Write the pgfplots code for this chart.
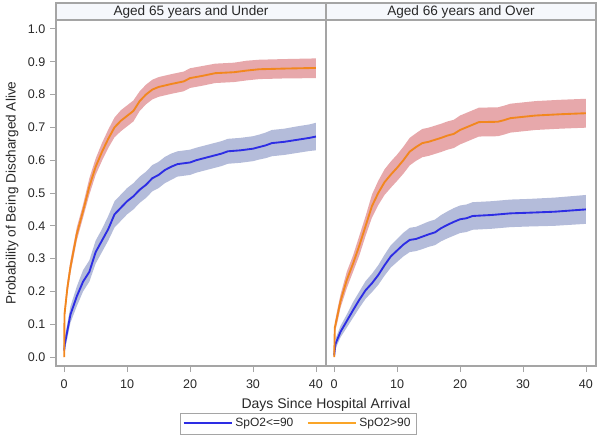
\documentclass[border=0pt]{standalone}
\usepackage{fontspec}
\setmainfont{Liberation Sans}
\usepackage{pgfplots}
\pgfplotsset{compat=1.18}
\usepackage{pgfplotstable}
\usepgfplotslibrary{fillbetween}
\definecolor{lineblue}{RGB}{45,45,228}
\definecolor{lineorange}{RGB}{242,135,30}
\definecolor{legorange}{RGB}{250,165,40}
\definecolor{bandblue}{RGB}{180,188,218}
\definecolor{bandred}{RGB}{231,168,171}
\definecolor{framegray}{RGB}{165,165,165}
\definecolor{headerfill}{RGB}{246,248,252}
\definecolor{textgray}{RGB}{40,40,40}

\pgfplotstableread{
t est lo hi
0 0.02 0.02 0.02
0.1 0.04 0.02 0.06
1 0.13 0.105 0.155
2 0.185 0.155 0.215
3 0.23 0.2 0.265
4 0.26 0.23 0.295
5 0.32 0.285 0.355
6 0.355 0.32 0.39
7 0.39 0.355 0.43
8 0.435 0.395 0.475
9 0.455 0.415 0.495
10 0.475 0.435 0.515
11 0.49 0.45 0.53
12 0.51 0.47 0.55
13 0.525 0.485 0.565
14 0.545 0.505 0.585
15 0.555 0.515 0.595
16 0.57 0.53 0.61
17 0.58 0.54 0.62
18 0.588 0.55 0.627
20 0.593 0.555 0.632
21 0.60 0.562 0.638
23 0.61 0.572 0.648
25 0.62 0.582 0.658
26 0.627 0.589 0.665
28 0.63 0.592 0.668
30 0.635 0.597 0.673
31 0.64 0.602 0.678
32 0.645 0.606 0.684
33 0.652 0.612 0.692
35 0.656 0.616 0.696
37 0.662 0.622 0.703
39 0.668 0.628 0.709
40 0.672 0.630 0.714
}\leftlow

\pgfplotstableread{
t est lo hi
0 0.00 0.00 0.00
0.05 0.13 0.115 0.145
0.5 0.21 0.19 0.23
1 0.275 0.255 0.295
2 0.375 0.355 0.395
3 0.445 0.425 0.465
4 0.52 0.495 0.545
5 0.58 0.555 0.605
6 0.625 0.598 0.652
7 0.665 0.637 0.693
8 0.70 0.670 0.730
9 0.72 0.688 0.752
10 0.735 0.703 0.767
11 0.75 0.718 0.782
12 0.78 0.750 0.810
13 0.80 0.770 0.830
14 0.815 0.785 0.845
15 0.823 0.793 0.853
17 0.832 0.802 0.862
19 0.84 0.81 0.87
20 0.85 0.82 0.88
22 0.857 0.827 0.887
24 0.865 0.835 0.894
27 0.868 0.838 0.897
29 0.873 0.843 0.903
31 0.877 0.847 0.906
35 0.879 0.849 0.908
40 0.881 0.850 0.910
}\lefthigh

\pgfplotstableread{
t est lo hi
0 0.005 0.005 0.005
0.2 0.04 0.025 0.055
1 0.077 0.06 0.095
2 0.11 0.09 0.13
3 0.143 0.12 0.168
4 0.175 0.15 0.20
5 0.204 0.178 0.232
6 0.225 0.198 0.254
7 0.25 0.22 0.28
8 0.28 0.248 0.312
9 0.307 0.273 0.341
10 0.325 0.29 0.36
11 0.343 0.307 0.379
12 0.357 0.32 0.394
13 0.36 0.323 0.397
14 0.367 0.329 0.405
15 0.374 0.336 0.413
16 0.38 0.341 0.419
17 0.393 0.353 0.433
18 0.403 0.362 0.444
19 0.412 0.37 0.454
20 0.42 0.378 0.462
21 0.423 0.381 0.465
22 0.43 0.388 0.472
25 0.433 0.391 0.475
28 0.438 0.396 0.48
31 0.44 0.398 0.482
35 0.443 0.4 0.486
40 0.45 0.406 0.494
}\rightlow

\pgfplotstableread{
t est lo hi
0 0.00 0.00 0.00
0.1 0.09 0.075 0.105
0.5 0.125 0.105 0.145
1 0.17 0.15 0.19
2 0.235 0.21 0.26
3 0.285 0.26 0.31
4 0.34 0.31 0.37
5 0.40 0.37 0.43
6 0.46 0.425 0.495
7 0.50 0.463 0.537
8 0.533 0.494 0.572
9 0.556 0.516 0.596
10 0.577 0.537 0.617
11 0.60 0.559 0.641
12 0.626 0.584 0.668
13 0.64 0.598 0.682
14 0.652 0.609 0.695
15 0.656 0.613 0.699
16 0.662 0.619 0.705
17 0.668 0.625 0.711
18 0.675 0.632 0.718
19 0.68 0.637 0.723
20 0.692 0.648 0.736
21 0.70 0.656 0.744
22 0.708 0.664 0.752
23 0.716 0.672 0.76
26 0.717 0.673 0.761
27 0.722 0.678 0.766
28 0.728 0.684 0.772
30 0.732 0.688 0.776
32 0.736 0.692 0.78
36 0.74 0.696 0.784
40 0.743 0.699 0.787
}\righthigh

\pgfplotsset{
  panel/.style={
    scale only axis,
    width=202.5pt, height=259.5pt,
    xmin=-1.3, xmax=41.6,
    ymin=-0.027, ymax=1.027,
    xtick={0,10,20,30,40},
    axis line style={draw=framegray, line width=0.8pt},
    tick style={draw=framegray, line width=0.6pt},
    tick align=outside,
    major tick length=4.5pt,
    xtick pos=bottom, ytick pos=left,
    tick label style={font=\fontsize{9.4}{11}\selectfont, text=textgray},
    /pgf/number format/assume math mode=true,
    xticklabel style={yshift=-2pt},
  },
}

\begin{document}
\begin{tikzpicture}
% left panel
\begin{axis}[panel, at={(42pt,53.25pt)}, anchor=south west,
  ytick={0,0.1,0.2,0.3,0.4,0.5,0.6,0.7,0.8,0.9,1.0},
  yticklabel style={/pgf/number format/.cd, fixed, fixed zerofill, precision=1},
  legend columns=2,
  legend style={at={(0.896,-0.166)}, anchor=center, draw=framegray,
    font=\fontsize{9}{10}\selectfont, text=textgray,
    /tikz/every even column/.append style={column sep=8pt},
    inner xsep=2pt, inner ysep=2pt},
  legend image code/.code={\draw[#1] (0pt,0pt) -- (36pt,0pt);},
]
\addplot[draw=none, name path=lbu, forget plot] table[x=t,y=hi]{\leftlow};
\addplot[draw=none, name path=lbl, forget plot] table[x=t,y=lo]{\leftlow};
\addplot[fill=bandblue, draw=none, forget plot] fill between[of=lbu and lbl];
\addplot[draw=none, name path=lou, forget plot] table[x=t,y=hi]{\lefthigh};
\addplot[draw=none, name path=lol, forget plot] table[x=t,y=lo]{\lefthigh};
\addplot[fill=bandred, draw=none, forget plot] fill between[of=lou and lol];
\addplot[draw=lineblue, line width=1.4pt, forget plot] table[x=t,y=est]{\leftlow};
\addplot[draw=lineorange, line width=1.4pt, forget plot] table[x=t,y=est]{\lefthigh};
\addlegendimage{draw=lineblue, line width=1.5pt}
\addlegendentry{SpO2<=90}
\addlegendimage{draw=legorange, line width=1.5pt}
\addlegendentry{SpO2>90}
\end{axis}
% right panel
\begin{axis}[panel, at={(244.5pt,53.25pt)}, anchor=south west,
  ytick={0,0.5,1}, yticklabels={}, major y tick style={draw=none}]
\addplot[draw=none, name path=rbu, forget plot] table[x=t,y=hi]{\rightlow};
\addplot[draw=none, name path=rbl, forget plot] table[x=t,y=lo]{\rightlow};
\addplot[fill=bandblue, draw=none, forget plot] fill between[of=rbu and rbl];
\addplot[draw=none, name path=rou, forget plot] table[x=t,y=hi]{\righthigh};
\addplot[draw=none, name path=rol, forget plot] table[x=t,y=lo]{\righthigh};
\addplot[fill=bandred, draw=none, forget plot] fill between[of=rou and rol];
\addplot[draw=lineblue, line width=1.4pt] table[x=t,y=est]{\rightlow};
\addplot[draw=lineorange, line width=1.4pt] table[x=t,y=est]{\righthigh};
\end{axis}
% header strips
\draw[draw=framegray, line width=0.8pt, fill=headerfill] (42pt,312.75pt) rectangle (244.5pt,325.5pt);
\draw[draw=framegray, line width=0.8pt, fill=headerfill] (244.5pt,312.75pt) rectangle (447pt,325.5pt);
\node[font=\fontsize{10.2}{11}\selectfont, text=textgray] at (143.25pt,319.1pt) {Aged 65 years and Under};
\node[font=\fontsize{10.2}{11}\selectfont, text=textgray] at (345.75pt,319.1pt) {Aged 66 years and Over};
% axis labels
\node[font=\fontsize{10.2}{11}\selectfont, text=textgray, rotate=90] at (9pt,183pt) {Probability of Being Discharged Alive};
\node[font=\fontsize{10.5}{11}\selectfont, text=textgray] at (244.5pt,24pt) {Days Since Hospital Arrival};
\path (0pt,0pt) rectangle (450pt,327.75pt);
\end{tikzpicture}
\end{document}
